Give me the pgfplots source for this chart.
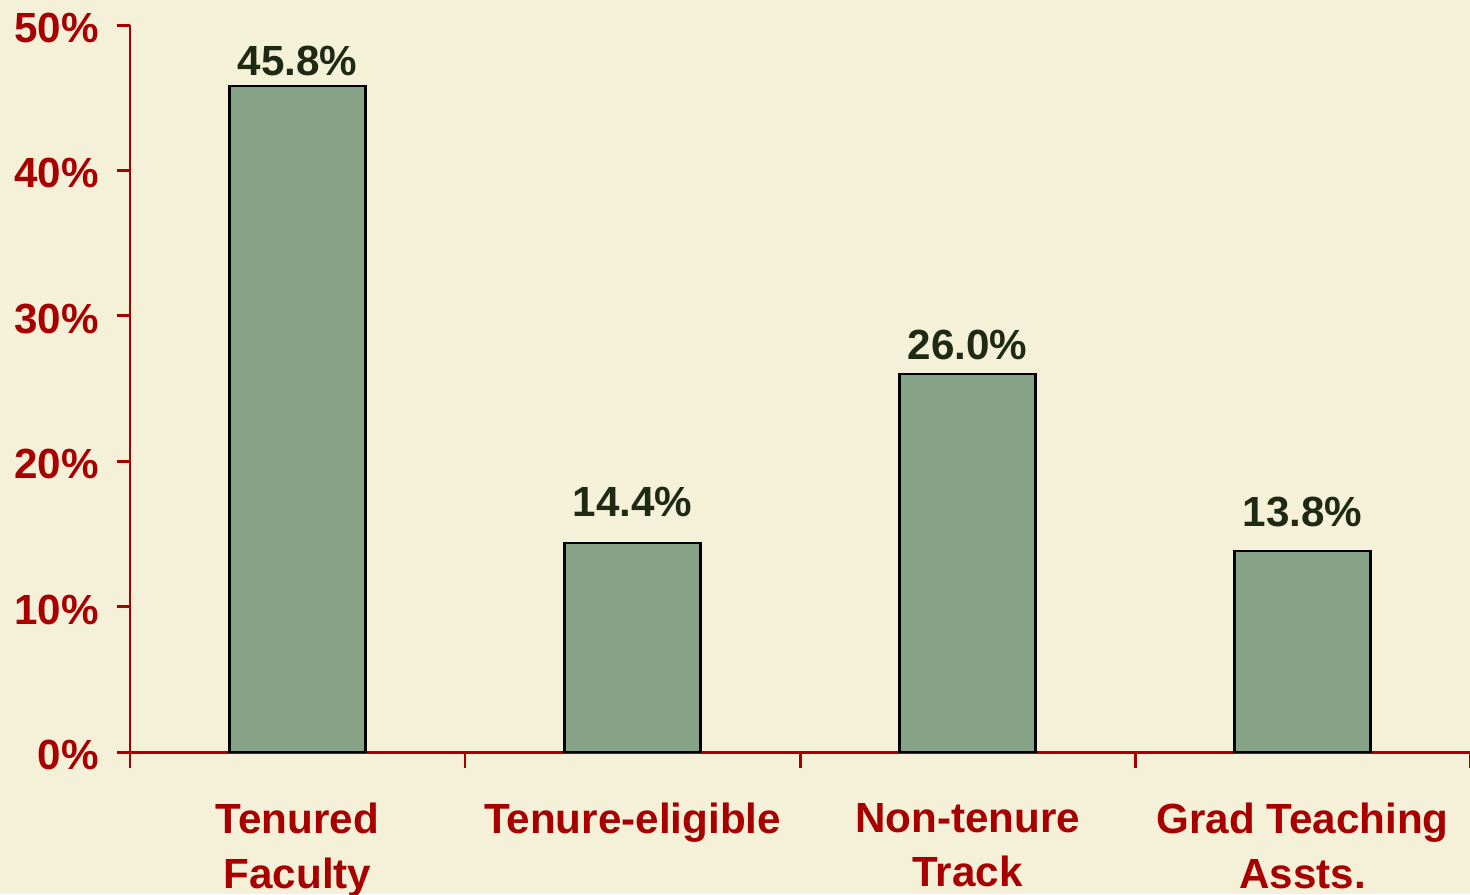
\documentclass[border=0pt]{standalone}
\usepackage{fontspec}
\setmainfont{Liberation Sans}
\usepackage{pgfplots}
\pgfplotsset{compat=1.18}
\definecolor{bgcream}{RGB}{245,240,216}
\definecolor{barfill}{RGB}{134,163,135}
\definecolor{axisred}{RGB}{168,0,0}
\definecolor{valdark}{RGB}{31,42,20}

\begin{document}
\begin{tikzpicture}
\fill[bgcream] (0,0) rectangle (14.7,8.94);
\begin{axis}[
    at={(1.30cm,1.42cm)}, anchor=origin,
    scale only axis,
    width=13.4cm, height=7.27cm,
    xmin=0, xmax=4,
    ymin=0, ymax=50,
    axis x line*=bottom,
    axis y line*=left,
    axis line style={axisred, line width=0.85pt, -},
    every tick/.style={axisred, line width=0.85pt},
    tick align=outside,
    major tick length=0.13cm,
    minor tick length=0.16cm,
    xtick={0.5,1.5,2.5,3.5},
    xticklabels={Tenured\\Faculty, Tenure-eligible, Non-tenure\\Track, Grad Teaching\\Assts.},
    minor xtick={0,1,2,3,4},
    major x tick style={draw=none},
    ytick={0,10,20,30,40,50},
    yticklabels={0\%,10\%,20\%,30\%,40\%,50\%},
    /pgf/number format/assume math mode=true,
    tick label style={font=\fontsize{12}{15.4}\selectfont\bfseries, text=axisred},
    xticklabel style={align=center, anchor=north, yshift=-0.26cm},
    yticklabel style={anchor=east, xshift=-0.06cm, yshift=-0.03cm},
    clip=false,
]
% x, share, label offset above bar (pt)
\addplot[ybar, bar width=1.36cm, fill=barfill, draw=black, line width=0.6pt,
    visualization depends on={\thisrow{off}\as\labeloff},
    nodes near coords={\pgfmathprintnumber[fixed,fixed zerofill,precision=1]{\pgfplotspointmeta}\%},
    every node near coord/.append style={font=\fontsize{12}{14}\selectfont\bfseries, text=valdark, anchor=south, inner sep=1pt, yshift=\labeloff pt}]
    table {
x   y    off
0.5 45.8 1.7
1.5 14.4 6.0
2.5 26.0 2.6
3.5 13.8 5.7
};
\end{axis}
\pgfresetboundingbox
\useasboundingbox (0,0) rectangle (14.7,8.94);
\end{tikzpicture}
\end{document}
